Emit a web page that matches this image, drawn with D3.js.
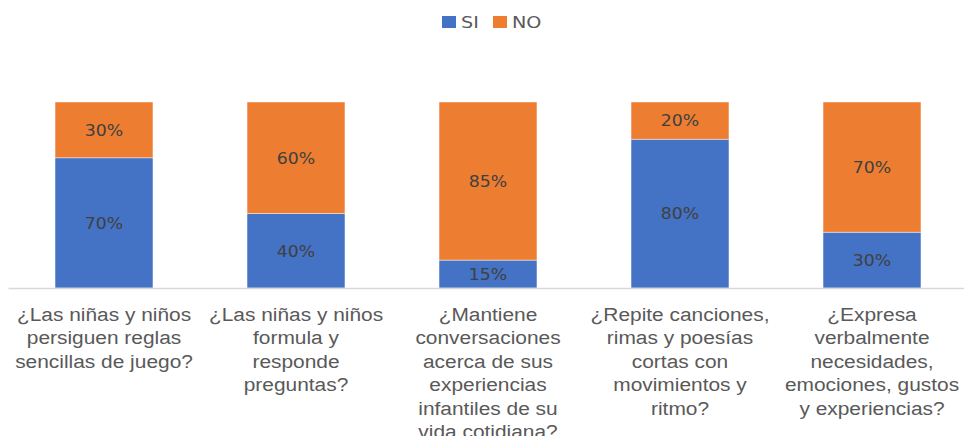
<!DOCTYPE html>
<html>
<head>
<meta charset="utf-8">
<script src="https://cdn.jsdelivr.net/npm/d3@7"></script>
<style>
  body { margin: 0; background: #fff; }
  svg { display: block; }
</style>
</head>
<body>
<div id="chart"></div>
<script>
// category labels, one entry per line as they wrap in the chart
var categories = [
    ['¿Las niñas y niños', 'persiguen reglas', 'sencillas de juego?'],
    ['¿Las niñas y niños', 'formula y', 'responde', 'preguntas?'],
    ['¿Mantiene', 'conversaciones', 'acerca de sus', 'experiencias', 'infantiles de su', 'vida cotidiana?'],
    ['¿Repite canciones,', 'rimas y poesías', 'cortas con', 'movimientos y', 'ritmo?'],
    ['¿Expresa', 'verbalmente', 'necesidades,', 'emociones, gustos', 'y experiencias?']
];
var seriesNames = ['SI', 'NO'];
var siValues = [70, 40, 15, 80, 30];
var noValues = [30, 60, 85, 20, 70];
var colors = ['#4472C4', '#ED7D31'];

var width = 964, height = 436;
var margin = {top: 102, right: -4, bottom: 148, left: 8};
var plotW = width - margin.left - margin.right,
    plotH = height - margin.top - margin.bottom;

var svg = d3.select('#chart').append('svg')
    .attr('width', width)
    .attr('height', height);

var g = svg.append('g')
    .attr('transform', 'translate(' + margin.left + ',' + margin.top + ')');

var idx = d3.range(categories.length);

var x = d3.scaleBand()
    .domain(idx)
    .range([0, plotW])
    .paddingInner(0.49)
    .paddingOuter(0.245);

var y = d3.scaleLinear()
    .domain([0, 100])
    .range([plotH, 0]);

var table = idx.map(function(i) { return {i: i, SI: siValues[i], NO: noValues[i]}; });
var stacked = d3.stack().keys(seriesNames)(table);

var layers = g.selectAll('.layer')
    .data(stacked)
    .enter()
    .append('g')
    .attr('class', 'layer')
    .style('fill', function(d, k) { return colors[k]; });

layers.selectAll('rect')
    .data(function(d) { return d; })
    .enter()
    .append('rect')
    .attr('x', function(d) { return x(d.data.i); })
    .attr('width', x.bandwidth())
    .attr('y', function(d) { return y(d[1]); })
    .attr('height', function(d) { return y(d[0]) - y(d[1]); })
    .style('stroke', '#fff')
    .style('stroke-opacity', 0.6)
    .style('stroke-width', 0.75);

layers.selectAll('text')
    .data(function(d) { return d; })
    .enter()
    .append('text')
    .attr('transform', function(d) {
        return 'translate(' + (x(d.data.i) + x.bandwidth() / 2) + ',' + ((y(d[0]) + y(d[1])) / 2) + ') scale(1.08,1)';
    })
    .attr('dy', '0.36em')
    .attr('text-anchor', 'middle')
    .attr('font-family', 'DejaVu Sans, sans-serif')
    .attr('font-size', '16px')
    .attr('fill', '#404040')
    .text(function(d) { return (d[1] - d[0]) + '%'; });

// baseline axis
var xAxis = d3.axisBottom(x).tickSize(0).tickFormat('');
var axisG = g.append('g')
    .attr('transform', 'translate(0,' + plotH + ')')
    .call(xAxis);
axisG.select('.domain').attr('stroke', '#d9d9d9').attr('stroke-width', 1.5);

// wrapped category labels (the source is horizontally stretched)
var labels = g.selectAll('.cat-label')
    .data(idx)
    .enter()
    .append('text')
    .attr('class', 'cat-label')
    .attr('text-anchor', 'middle')
    .attr('font-family', 'Liberation Sans, Arial, sans-serif')
    .attr('font-size', '19px')
    .attr('fill', '#595959')
    .attr('transform', function(i) { return 'translate(' + (x(i) + x.bandwidth() / 2) + ',' + (plotH + 33) + ') scale(1.1,1)'; });

labels.selectAll('tspan')
    .data(function(i) { return categories[i]; })
    .enter()
    .append('tspan')
    .attr('x', 0)
    .attr('y', function(d, k) { return k * 23.5; })
    .text(function(d) { return d; });

// legend
var legend = svg.append('g').attr('transform', 'translate(442,15)');
var legX = [0, 51];
seriesNames.forEach(function(name, k) {
    legend.append('rect')
        .attr('x', legX[k])
        .attr('y', 1)
        .attr('width', 14)
        .attr('height', 12)
        .style('fill', colors[k]);
    legend.append('text')
        .attr('transform', 'translate(' + (legX[k] + 19) + ',7) scale(1.2,1)')
        .attr('dy', '0.36em')
        .attr('font-family', 'DejaVu Sans, sans-serif')
        .attr('font-size', '16px')
        .attr('fill', '#595959')
        .text(name);
});
</script>
</body>
</html>
